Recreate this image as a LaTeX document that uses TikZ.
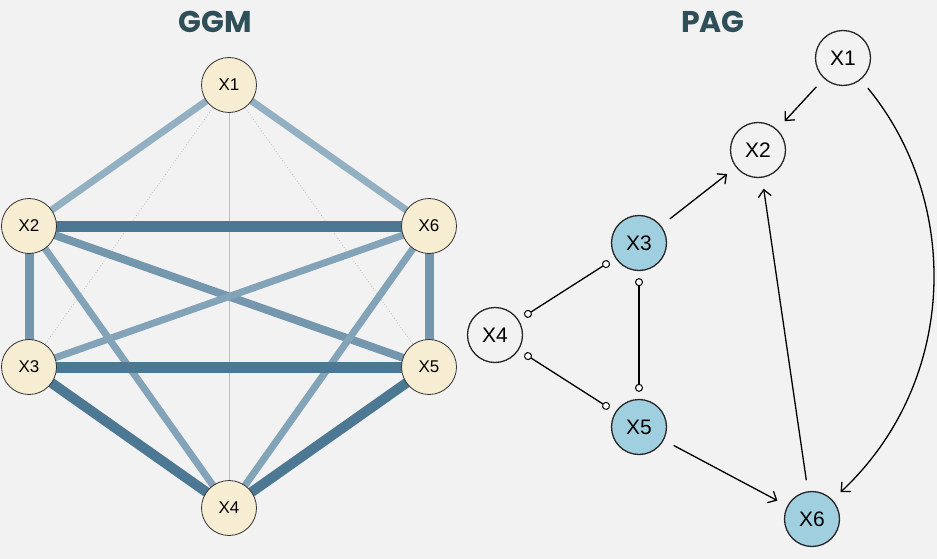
\documentclass[tikz,border=0pt]{standalone}
\usepackage{fontspec}
\setmainfont{Liberation Sans}
\newfontfamily\titlefont{Poppins}
\usepackage{xcolor}
\usepackage{tikz}
\usetikzlibrary{arrows.meta}
\definecolor{bgpaper}{HTML}{F2F2F2}
\definecolor{titleink}{HTML}{2F4F58}
\definecolor{cream}{HTML}{F7EDD2}
\definecolor{lightblue}{HTML}{A0CFDF}
\definecolor{tiestrong}{HTML}{4D7893}
\definecolor{tiemid}{HTML}{7497AE}
\definecolor{tiesoft}{HTML}{82A3B8}
\definecolor{tiefaint}{HTML}{92B0C2}
\pgfdeclarelayer{paper}
\pgfdeclarelayer{ties}
\pgfsetlayers{paper,ties,main}

\begin{document}
\begin{tikzpicture}[x=1pt, y=-1pt]
\tikzstyle{ggmvertex}=[circle, draw=black!80, line width=0.8pt, fill=cream, minimum size=55pt, inner sep=0pt, font=\fontsize{17}{17}\selectfont]
\tikzstyle{pagvertex}=[circle, draw=black!85, line width=1.3pt, fill=bgpaper, minimum size=55pt, inner sep=0pt, font=\fontsize{21}{21}\selectfont]
\tikzstyle{arc}=[line width=1.3pt, shorten <=11pt, shorten >=11pt, -{Straight Barb[length=7pt, width=13pt]}]
\tikzstyle{circlearc}=[line width=1.3pt, shorten <=7pt, shorten >=7pt, {Circle[fill=white, length=8pt, line width=1pt]}-{Circle[fill=white, length=8pt, line width=1pt]}]
\tikzstyle{title}=[font=\titlefont\bfseries\fontsize{30}{30}\selectfont, text=titleink]

\begin{pgfonlayer}{paper}
\fill[bgpaper] (0,0) rectangle (937,559);
\end{pgfonlayer}
\useasboundingbox (0,0) rectangle (937,559);

\node[title] (ggmtitle) at (215,22) {GGM};
\node[title] (pagtitle) at (713,22) {PAG};

% GGM
\node[ggmvertex] (g1) at (229,85) {X1};
\node[ggmvertex] (g2) at (29,226) {X2};
\node[ggmvertex] (g6) at (429,226) {X6};
\node[ggmvertex] (g3) at (29,367) {X3};
\node[ggmvertex] (g5) at (429,367) {X5};
\node[ggmvertex] (g4) at (229,508) {X4};

\begin{pgfonlayer}{ties}
\path
(g1.center) edge[black!25, line width=0.8pt, dotted] (g3.center)
    edge[black!25, line width=0.8pt, dotted] (g5.center)
    edge[black!25, line width=0.9pt] (g4.center)
    edge[tiefaint, line width=7pt] (g2.center)
    edge[tiefaint, line width=7pt] (g6.center)
(g2.center) edge[tiesoft, line width=7pt] (g4.center)
    edge[tiemid, line width=8pt] (g5.center)
    edge[tiemid, line width=9pt] (g3.center)
(g6.center) edge[tiesoft, line width=7pt] (g4.center)
    edge[tiesoft, line width=7pt] (g3.center)
    edge[tiemid, line width=9pt] (g5.center)
(g2.center) edge[tiestrong, line width=11pt] (g6.center)
(g3.center) edge[tiestrong, line width=11pt] (g5.center)
    edge[tiestrong, line width=10pt] (g4.center)
(g5.center) edge[tiestrong, line width=10pt] (g4.center);
\end{pgfonlayer}

% PAG
\node[pagvertex] (p1) at (843,58) {X1};
\node[pagvertex] (p2) at (758,150) {X2};
\node[pagvertex, fill=lightblue] (p3) at (639,243) {X3};
\node[pagvertex] (p4) at (495,335) {X4};
\node[pagvertex, fill=lightblue] (p5) at (639,427) {X5};
\node[pagvertex, fill=lightblue] (p6) at (812,519) {X6};

\path
(p1) edge[arc] (p2)
(p3) edge[arc] (p2)
(p6) edge[arc] (p2)
(p5) edge[arc] (p6)
(p4) edge[circlearc] (p3)
    edge[circlearc] (p5)
(p3) edge[circlearc] (p5);
\draw[arc] (p1) .. controls +(117,142) and +(148,-139) .. (p6);

\end{tikzpicture}
\end{document}
